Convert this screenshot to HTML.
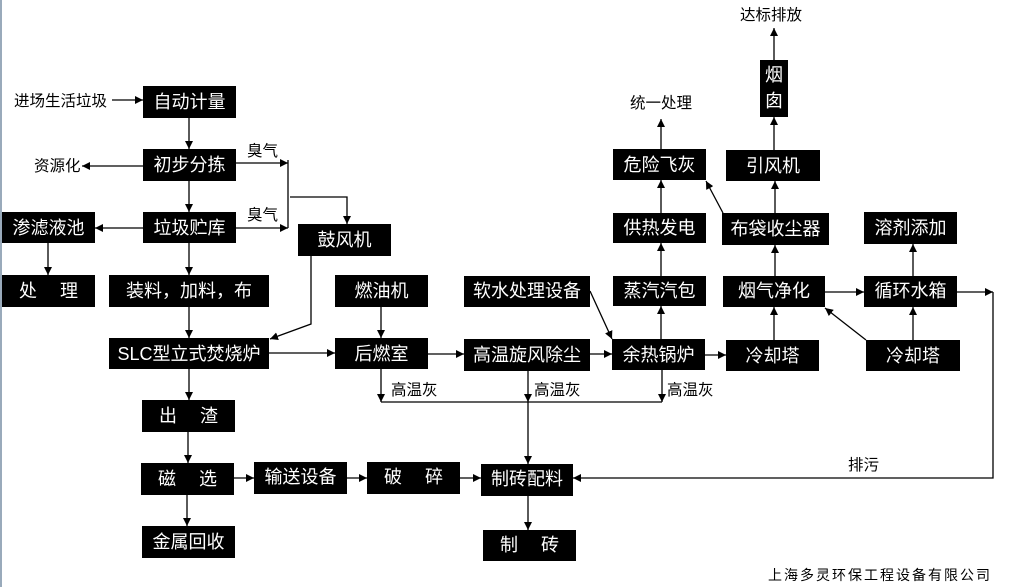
<!DOCTYPE html>
<html><head><meta charset="utf-8"><style>
html,body{margin:0;padding:0;background:#fff;}
svg{display:block;}
text{font-family:"Liberation Sans","Noto Sans CJK SC","WenQuanYi Zen Hei",sans-serif;}
.b{fill:#000;}
.t{fill:#fff;font-size:18px;text-anchor:middle;dominant-baseline:central;}
.l{fill:#000;font-size:15.5px;}
line,polyline{stroke:#000;stroke-width:1.3;fill:none;}
</style></head><body>
<svg width="1015" height="587" viewBox="0 0 1015 587" xmlns="http://www.w3.org/2000/svg">
<defs><marker id="a" viewBox="0 0 10 10" refX="10" refY="5" markerWidth="8" markerHeight="8" markerUnits="userSpaceOnUse" orient="auto"><path d="M0,0 L10,5 L0,10 z" fill="#000"/></marker></defs>
<line x1="1" y1="0" x2="1" y2="587" style="stroke:#9ab;stroke-width:2"/>
<!-- boxes -->
<rect class="b" x="143" y="86" width="93" height="32"/><text class="t" x="189.5" y="102">自动计量</text>
<rect class="b" x="143" y="149" width="93" height="32"/><text class="t" x="189.5" y="165">初步分拣</text>
<rect class="b" x="143" y="212" width="93" height="31"/><text class="t" x="189.5" y="228">垃圾贮库</text>
<rect class="b" x="2" y="212" width="93" height="31"/><text class="t" x="48.5" y="228">渗滤液池</text>
<rect class="b" x="2" y="275" width="93" height="32"/><text class="t" x="48.5" y="291" xml:space="preserve">处　 理</text>
<rect class="b" x="109" y="275" width="160" height="32"/><text class="t" x="189" y="291">装料，加料，布</text>
<rect class="b" x="298" y="224" width="93" height="32"/><text class="t" x="344.5" y="240">鼓风机</text>
<rect class="b" x="335" y="275" width="93" height="32"/><text class="t" x="381.5" y="291">燃油机</text>
<rect class="b" x="109" y="338" width="160" height="31"/><text class="t" x="189" y="354">SLC型立式焚烧炉</text>
<rect class="b" x="335" y="338" width="93" height="31"/><text class="t" x="381.5" y="354">后燃室</text>
<rect class="b" x="464" y="339" width="126" height="32"/><text class="t" x="527" y="355">高温旋风除尘</text>
<rect class="b" x="464" y="276" width="126" height="31"/><text class="t" x="527" y="291">软水处理设备</text>
<rect class="b" x="612" y="339" width="93" height="31"/><text class="t" x="658.5" y="355">余热锅炉</text>
<rect class="b" x="613" y="276" width="93" height="30"/><text class="t" x="659.5" y="291">蒸汽汽包</text>
<rect class="b" x="613" y="213" width="93" height="30"/><text class="t" x="659.5" y="228">供热发电</text>
<rect class="b" x="613" y="149" width="93" height="31"/><text class="t" x="659.5" y="165">危险飞灰</text>
<rect class="b" x="726" y="340" width="93" height="31"/><text class="t" x="772.5" y="356">冷却塔</text>
<rect class="b" x="723" y="276" width="102" height="31"/><text class="t" x="774" y="291">烟气净化</text>
<rect class="b" x="722" y="213" width="107" height="32"/><text class="t" x="775.5" y="229">布袋收尘器</text>
<rect class="b" x="726" y="150" width="94" height="31"/><text class="t" x="773" y="166">引风机</text>
<rect class="b" x="760" y="60" width="28" height="57"/><text class="t" x="774" y="75">烟</text><text class="t" x="774" y="101">囱</text>
<rect class="b" x="864" y="212" width="93" height="32"/><text class="t" x="910.5" y="228">溶剂添加</text>
<rect class="b" x="864" y="276" width="93" height="31"/><text class="t" x="910.5" y="291">循环水箱</text>
<rect class="b" x="866" y="340" width="94" height="31"/><text class="t" x="913" y="356">冷却塔</text>
<rect class="b" x="142" y="400" width="93" height="32"/><text class="t" x="188.5" y="416" xml:space="preserve">出　 渣</text>
<rect class="b" x="141" y="463" width="93" height="32"/><text class="t" x="187.5" y="479" xml:space="preserve">磁　 选</text>
<rect class="b" x="142" y="526" width="93" height="32"/><text class="t" x="188.5" y="542">金属回收</text>
<rect class="b" x="254" y="462" width="93" height="32"/><text class="t" x="300.5" y="477">输送设备</text>
<rect class="b" x="367" y="462" width="93" height="32"/><text class="t" x="413.5" y="477" xml:space="preserve">破　 碎</text>
<rect class="b" x="481" y="464" width="92" height="32"/><text class="t" x="527" y="479">制砖配料</text>
<rect class="b" x="483" y="530" width="93" height="31"/><text class="t" x="529.5" y="545" xml:space="preserve">制　 砖</text>
<!-- labels -->
<text class="l" x="14" y="106">进场生活垃圾</text>
<text class="l" x="34" y="171">资源化</text>
<text class="l" x="247" y="156">臭气</text>
<text class="l" x="247" y="220">臭气</text>
<text class="l" x="391" y="395">高温灰</text>
<text class="l" x="534" y="395">高温灰</text>
<text class="l" x="667" y="395">高温灰</text>
<text class="l" x="630" y="108">统一处理</text>
<text class="l" x="740" y="20">达标排放</text>
<text class="l" x="848" y="470">排污</text>
<text class="l" x="768" y="580" style="font-size:14px;letter-spacing:2px">上海多灵环保工程设备有限公司</text>
<!-- connectors -->
<line x1="112" y1="100" x2="143" y2="100" marker-end="url(#a)"/>
<line x1="189" y1="118" x2="189" y2="149" marker-end="url(#a)"/>
<line x1="143" y1="166" x2="82" y2="166" marker-end="url(#a)"/>
<line x1="236" y1="163" x2="288" y2="163" marker-end="url(#a)"/>
<line x1="236" y1="228" x2="288" y2="228" marker-end="url(#a)"/>
<line x1="288" y1="160" x2="288" y2="228"/>
<polyline points="290,197 347,197 347,224" marker-end="url(#a)"/>
<line x1="189" y1="181" x2="189" y2="212" marker-end="url(#a)"/>
<line x1="143" y1="228" x2="95" y2="228" marker-end="url(#a)"/>
<line x1="48" y1="243" x2="48" y2="275" marker-end="url(#a)"/>
<line x1="189" y1="243" x2="189" y2="275" marker-end="url(#a)"/>
<line x1="189" y1="307" x2="189" y2="338" marker-end="url(#a)"/>
<polyline points="311,256 311,324 270,339" marker-end="url(#a)"/>
<line x1="381" y1="307" x2="381" y2="338" marker-end="url(#a)"/>
<line x1="269" y1="353" x2="335" y2="353" marker-end="url(#a)"/>
<line x1="428" y1="354" x2="464" y2="354" marker-end="url(#a)"/>
<line x1="590" y1="354" x2="612" y2="354" marker-end="url(#a)"/>
<line x1="705" y1="355" x2="726" y2="355" marker-end="url(#a)"/>
<line x1="590" y1="291" x2="612" y2="339" marker-end="url(#a)"/>
<line x1="661" y1="339" x2="661" y2="306" marker-end="url(#a)"/>
<line x1="661" y1="276" x2="661" y2="243" marker-end="url(#a)"/>
<line x1="661" y1="213" x2="661" y2="180" marker-end="url(#a)"/>
<line x1="661" y1="149" x2="661" y2="119" marker-end="url(#a)"/>
<line x1="774" y1="340" x2="774" y2="307" marker-end="url(#a)"/>
<line x1="775" y1="276" x2="775" y2="245" marker-end="url(#a)"/>
<line x1="775" y1="213" x2="775" y2="181" marker-end="url(#a)"/>
<line x1="774" y1="150" x2="774" y2="117" marker-end="url(#a)"/>
<line x1="774" y1="60" x2="774" y2="28" marker-end="url(#a)"/>
<line x1="723" y1="213" x2="706" y2="181" marker-end="url(#a)"/>
<line x1="825" y1="292" x2="864" y2="292" marker-end="url(#a)"/>
<line x1="866" y1="340" x2="825" y2="308" marker-end="url(#a)"/>
<line x1="913" y1="340" x2="913" y2="307" marker-end="url(#a)"/>
<line x1="913" y1="276" x2="913" y2="244" marker-end="url(#a)"/>
<line x1="957" y1="292" x2="993" y2="292" marker-end="url(#a)"/>
<polyline points="993,292 993,478 573,478" marker-end="url(#a)"/>
<line x1="381" y1="369" x2="381" y2="402" marker-end="url(#a)"/>
<line x1="381" y1="402" x2="662" y2="402"/>
<line x1="662" y1="370" x2="662" y2="402" marker-end="url(#a)"/>
<line x1="528" y1="371" x2="528" y2="402" marker-end="url(#a)"/>
<line x1="528" y1="402" x2="528" y2="464" marker-end="url(#a)"/>
<line x1="528" y1="496" x2="528" y2="530" marker-end="url(#a)"/>
<line x1="189" y1="369" x2="189" y2="400" marker-end="url(#a)"/>
<line x1="188" y1="432" x2="188" y2="463" marker-end="url(#a)"/>
<line x1="187" y1="495" x2="187" y2="526" marker-end="url(#a)"/>
<line x1="234" y1="478" x2="254" y2="478" marker-end="url(#a)"/>
<line x1="347" y1="478" x2="367" y2="478" marker-end="url(#a)"/>
<line x1="460" y1="478" x2="481" y2="478" marker-end="url(#a)"/>
</svg>
</body></html>
